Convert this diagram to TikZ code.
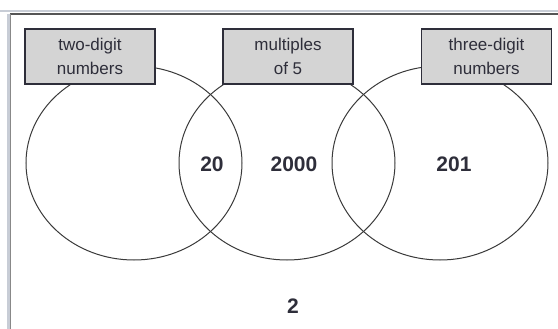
\documentclass[tikz,border=0pt]{standalone}
\usepackage{fontspec}
\setmainfont{Liberation Sans}
\usepackage{xcolor}
\usepackage{tikz}
\definecolor{frame}{HTML}{555555}
\definecolor{framelt}{HTML}{C8CDD6}
\definecolor{boxbg}{HTML}{D4D4D4}
\definecolor{ink}{HTML}{2E2E3A}
\definecolor{ring}{HTML}{3A3A3A}
\tikzset{
  set/.style={draw=ring, line width=1pt},
  tag/.style={draw=ink, fill=boxbg, line width=1.3pt, minimum width=130pt, minimum height=55pt,
    align=center, text=ink, font=\fontsize{17}{24}\selectfont, inner sep=0pt},
  num/.style={text=ink, font=\fontsize{21}{24}\selectfont\bfseries},
}
\begin{document}
\begin{tikzpicture}[x=1pt, y=-1pt]
  \useasboundingbox (0,0) rectangle (558,329);
  % frame
  \draw[framelt, line width=2pt] (0,11) -- (558,11);
  \draw[framelt, line width=3pt] (8,14) -- (8,329);
  \draw[frame, line width=1.5pt] (10,14) -- (558,14);
  \draw[frame!70, line width=1pt] (10.5,14) -- (10.5,329);
  % the three sets
  \draw[set] (134,163) ellipse (108 and 97);
  \draw[set] (287,163) ellipse (108 and 97);
  \draw[set] (440,163) ellipse (108 and 97);
  % labels
  \node[tag] (twodig) at (90,56.5) {two-digit\\numbers};
  \node[tag] (mult5) at (288,56.5) {multiples\\of 5};
  \node[tag] (threedig) at (486.5,56.5) {three-digit\\numbers};
  % entries
  \node[num] (n20) at (212,164) {20};
  \node[num] (n2000) at (294,164) {2000};
  \node[num] (n201) at (454,164) {201};
  \node[num] (n2) at (293,306) {2};
\end{tikzpicture}
\end{document}
